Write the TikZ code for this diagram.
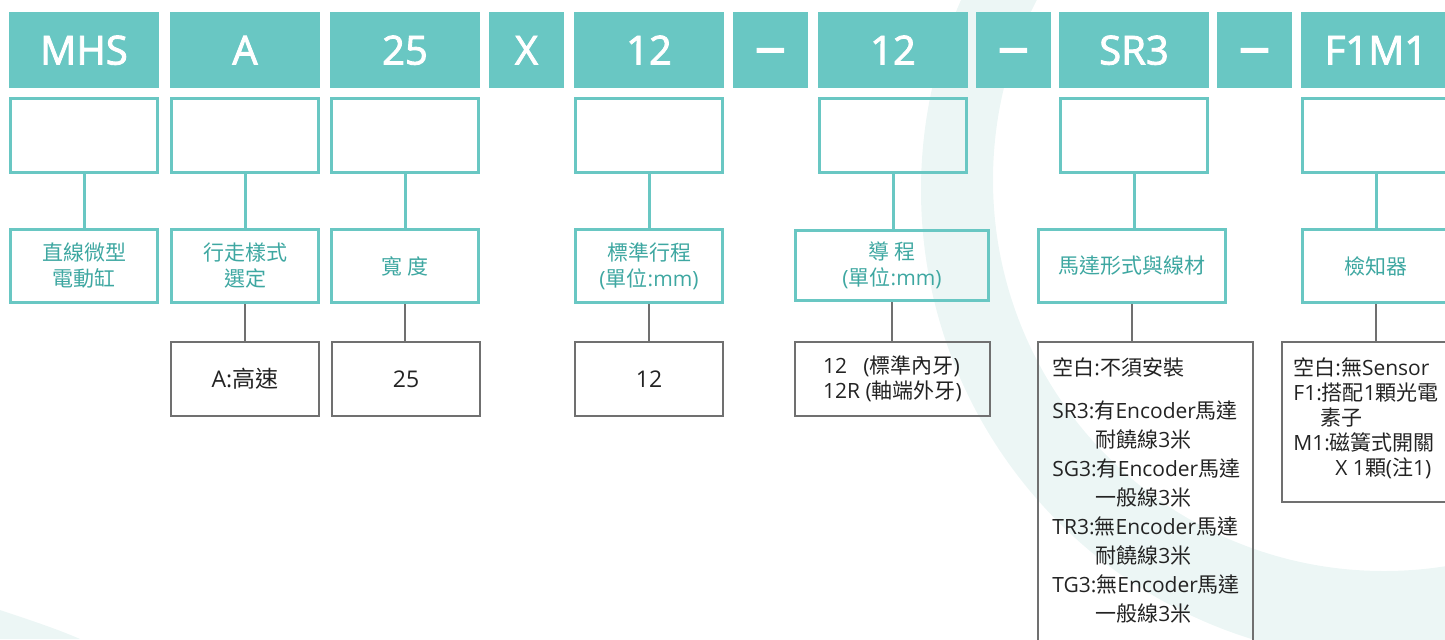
\documentclass[tikz,border=0pt]{standalone}
\usepackage{fontspec}
\setmainfont{Open Sans}
\newfontfamily\cjkfont{Noto Sans CJK TC}
\newfontfamily\codefont{Open Sans}[FakeBold=2.2]
\newcommand{\zh}[1]{{\cjkfont #1}}
\definecolor{codeteal}{RGB}{105,199,195}
\definecolor{labelteal}{RGB}{62,167,161}
\definecolor{boxgray}{RGB}{112,112,112}
\definecolor{textgray}{RGB}{35,35,35}
\definecolor{ringteal}{RGB}{236,246,245}
\begin{document}
\begin{tikzpicture}[x=0.5pt,y=-0.5pt,
  codebox/.style={fill=codeteal,text=white,inner sep=0pt,minimum height=38pt,minimum width=75pt,
    text height=14.5pt,text depth=0pt,font=\codefont\fontsize{20}{24}\selectfont},
  dashbox/.style={codebox,minimum width=37.5pt,text height=20.2pt,font=\codefont\fontsize{28}{30}\selectfont},
  blankbox/.style={draw=codeteal,line width=1.5pt,inner sep=0pt,minimum width=73.5pt,minimum height=37pt},
  labelbox/.style={draw=codeteal,line width=1.5pt,inner sep=0pt,minimum width=73.5pt,minimum height=36.5pt,
    align=center,text=labelteal,font=\fontsize{10.5}{13}\selectfont},
  valuebox/.style={draw=boxgray,line width=1pt,inner sep=0pt,minimum width=74pt,minimum height=37pt,
    align=left,text=textgray,font=\fontsize{10.5}{12.5}\selectfont},
  valuetext/.style={anchor=north west,inner sep=0pt,align=left,text=textgray},
  tealline/.style={draw=codeteal,line width=1.5pt},
  grayline/.style={draw=boxgray,line width=1pt}]
\useasboundingbox (0,0) rectangle (1445,639);
\clip (0,0) rectangle (1445,639);
% Background ring
\fill[ringteal,even odd rule] (1391,190) circle[radius=235pt] (1384,180) circle[radius=195.5pt];
\fill[ringteal] (0,610) .. controls (30,620) and (60,630) .. (80,639) -- (0,639) -- cycle;
% Draw the code row, label them c1, c2, etc.
\foreach \n/\x/\t in {1/84/MHS,2/245/A,3/405/25,5/649/12,7/893/12,9/1134/SR3,11/1376/F1M1}
{
  \node[codebox] (c\n) at (\x,50) {\t};
}
\node[codebox,minimum width=37.5pt] (c4) at (526.5,50) {X};
% The three dashes
\foreach \n/\x in {6/770.5,8/1013.5,10/1254.5}
{
  \node[dashbox] (c\n) at (\x,50) {−};
}
% Empty boxes under the codes (none under X and the dashes)
\foreach \n/\x in {1/84,2/245,3/405,5/649,7/893,9/1134,11/1376}
{
  \node[blankbox] (b\n) at (\x,135.5) {};
}
% Names of the fields
\node[labelbox] (l1) at (84,266) {\zh{直線微型}\\\zh{電動缸}};
\node[labelbox] (l2) at (245,266) {\zh{行走樣式}\\\zh{選定}};
\node[labelbox] (l3) at (405,266) {\zh{寬 度}};
\node[labelbox] (l5) at (649,266) {\zh{標準行程}\\(\zh{單位}:mm)};
\node[labelbox,minimum width=96.5pt,minimum height=35pt] (l7) at (892,265.5) {\zh{導 程}\\(\zh{單位}:mm)};
\node[labelbox,minimum width=93.5pt] (l9) at (1132,266) {\zh{馬達形式與線材}};
\node[labelbox] (l11) at (1376,266) {\zh{檢知器}};
\foreach \n in {1,2,3,5,7,9,11}
  \draw[tealline] (b\n.south) -- (b\n.south |- l\n.north);
% Values
\node[valuebox,font=\fontsize{11.5}{14}\selectfont] (v2) at (245,379) {A:\zh{高速}};
\node[valuebox,font=\fontsize{11.5}{14}\selectfont] (v3) at (406,379) {25};
\node[valuebox,font=\fontsize{11.5}{14}\selectfont] (v5) at (649,379) {12};
\node[valuebox,minimum width=97.5pt] (v7) at (892.5,379) {12\ \ \ (\zh{標準內牙})\\12R (\zh{軸端外牙})};
\node[valuebox,minimum width=107.5pt,minimum height=158.5pt] (v9) at (1145.5,500.5) {};
\node[valuebox,minimum width=93.5pt,minimum height=80pt] (v11) at (1375.5,422) {};
\node[valuetext,font=\fontsize{10.5}{14.5}\selectfont] (t9) at (1052,357)
  {\zh{空白}:\zh{不須安裝}\\[7pt]
   SR3:\zh{有}Encoder\zh{馬達}\\
   \hspace*{21.5pt}\zh{耐饒線}3\zh{米}\\
   SG3:\zh{有}Encoder\zh{馬達}\\
   \hspace*{21.5pt}\zh{一般線}3\zh{米}\\
   TR3:\zh{無}Encoder\zh{馬達}\\
   \hspace*{21.5pt}\zh{耐饒線}3\zh{米}\\
   TG3:\zh{無}Encoder\zh{馬達}\\
   \hspace*{21.5pt}\zh{一般線}3\zh{米}};
\node[valuetext,font=\fontsize{10.5}{12.5}\selectfont] (t11) at (1293,357)
  {\zh{空白}:\zh{無}Sensor\\
   F1:\zh{搭配}1\zh{顆光電}\\
   \hspace*{13.5pt}\zh{素子}\\
   M1:\zh{磁簧式開關}\\
   \hspace*{21pt}X 1\zh{顆}(\zh{注}1)};
\foreach \n in {2,3,5,7,9,11}
  \draw[grayline] (l\n.south) -- (l\n.south |- v\n.north);
\end{tikzpicture}
\end{document}
